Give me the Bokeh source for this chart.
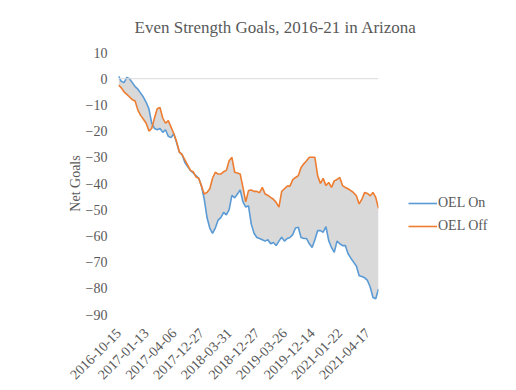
import math
from bokeh.plotting import figure
from bokeh.models import Range1d, FixedTicker, Span, Legend, LegendItem, ColumnDataSource
from bokeh.embed import file_html
from bokeh.resources import INLINE

tick_labels = ["2016-10-15", "2017-01-13", "2017-04-06", "2017-12-27", "2018-03-31",
               "2018-12-27", "2019-03-26", "2019-12-14", "2021-01-22", "2021-04-17"]
tick_positions = [0, 10, 20, 30, 40, 50, 60, 70, 80, 90]

oel_on = [1, -1, -1.5, 0.5, 0, -1.5, -3, -4, -5.5, -7,
          -9, -11.5, -17, -19, -19.5, -19, -20.5, -19.5, -22, -22.5,
          -21, -24.5, -28, -29, -32, -33.5, -35, -36, -37, -38,
          -41, -46, -53, -57, -59, -57, -54, -53, -51, -52,
          -50, -44.5, -45.5, -44, -42.5, -47, -49, -48.5, -55.5, -59,
          -60.6, -61, -61.5, -62, -61.5, -63, -62.5, -63.7, -62, -60.5,
          -62, -61, -60.6, -59.5, -57, -56.7, -60.6, -61, -61, -63,
          -64.4, -61.5, -58, -58, -58.6, -56.5, -61.8, -64.4, -66.3, -62,
          -63, -63.7, -63.7, -66.8, -68.5, -70, -71.5, -75.2, -75.5, -76,
          -77, -79.5, -83.5, -84, -80.3]

oel_off = [-2.4, -3.5, -5, -6, -7, -8, -8.5, -12, -14, -15.5,
           -17, -20, -19, -15, -11.5, -11, -15, -17, -16, -18.5,
           -21, -24, -28, -29, -31, -33, -35, -35.5, -37.5, -38,
           -41, -44, -43.4, -42, -38, -35.7, -36.4, -36.4, -35.5, -35,
           -31.3, -30, -35.7, -36, -36.4, -41.5, -47, -42.7, -42.5, -43,
           -43, -43.5, -41.5, -44, -44.5, -45.3, -46, -47.2, -49, -43,
           -42, -41, -41, -38.5, -37.7, -37, -33.9, -32.5, -31.3, -30,
           -30, -30, -37, -40, -38, -40.8, -39.6, -41.5, -39, -38.5,
           -37.7, -40.8, -41.5, -42, -42.7, -43.5, -44.7, -47.8, -46, -43.4,
           -43.8, -44.7, -43.4, -45.3, -49.5]

y_ticks = [-90, -80, -70, -60, -50, -40, -30, -20, -10, 0, 10]

TXT = "#595959"
FONT = "Liberation Serif"

src = ColumnDataSource(dict(x=list(range(len(oel_on))), on=oel_on, off=oel_off))

p = figure(output_backend="svg", toolbar_location=None,
           x_range=Range1d(0, len(oel_on) - 1), y_range=Range1d(-90, 10),
           frame_width=260, frame_height=262,
           min_border_left=118, min_border_top=52, min_border_right=130, min_border_bottom=68)
p.outline_line_color = None
p.xgrid.visible = False
p.ygrid.visible = False
p.background_fill_color = "white"
p.border_fill_color = "white"

p.title.text = "Even Strength Goals, 2016-21 in Arizona"
p.title.text_font = FONT
p.title.text_font_size = "17px"
p.title.text_font_style = "normal"
p.title.text_color = TXT
p.title.align = "left"
p.title.offset = 16
p.title.standoff = 31

# fill between the two series
p.varea(x="x", y1="on", y2="off", source=src, fill_color="#D9D9D9")
p.add_layout(Span(location=0, dimension="width", line_color="#D9D9D9", line_width=1))
r_on = p.line("x", "on", source=src, line_color="#5B9BD5", line_width=1.6)
r_off = p.line("x", "off", source=src, line_color="#ED7D31", line_width=1.6)

# axes
ya = p.yaxis[0]
ya.ticker = FixedTicker(ticks=y_ticks)
ya.axis_line_color = None
ya.major_tick_line_color = None
ya.minor_tick_line_color = None
ya.major_label_standoff = 5
ya.major_label_text_font = FONT
ya.major_label_text_font_size = "14px"
ya.major_label_text_color = TXT
ya.axis_label = "Net Goals"
ya.axis_label_text_font = FONT
ya.axis_label_text_font_size = "14px"
ya.axis_label_text_font_style = "normal"
ya.axis_label_text_color = TXT
ya.axis_label_standoff = 0

xa = p.xaxis[0]
xa.ticker = FixedTicker(ticks=tick_positions)
xa.major_label_overrides = {t: s for t, s in zip(tick_positions, tick_labels)}
xa.major_label_orientation = math.pi / 4
xa.axis_line_color = None
xa.major_tick_line_color = None
xa.minor_tick_line_color = None
xa.major_label_standoff = 10
xa.major_label_text_font = FONT
xa.major_label_text_font_size = "14px"
xa.major_label_text_color = TXT

legend = Legend(items=[LegendItem(label="OEL On", renderers=[r_on]),
                       LegendItem(label="OEL Off", renderers=[r_off])],
                location=(30, 78), orientation="vertical",
                glyph_width=29, glyph_height=20, label_height=20, label_standoff=1,
                spacing=3, padding=0, margin=0,
                border_line_color=None, background_fill_alpha=0,
                label_text_font=FONT, label_text_font_size="14px", label_text_color=TXT)
p.add_layout(legend, "right")

open("out.html", "w").write(file_html(p, INLINE))
